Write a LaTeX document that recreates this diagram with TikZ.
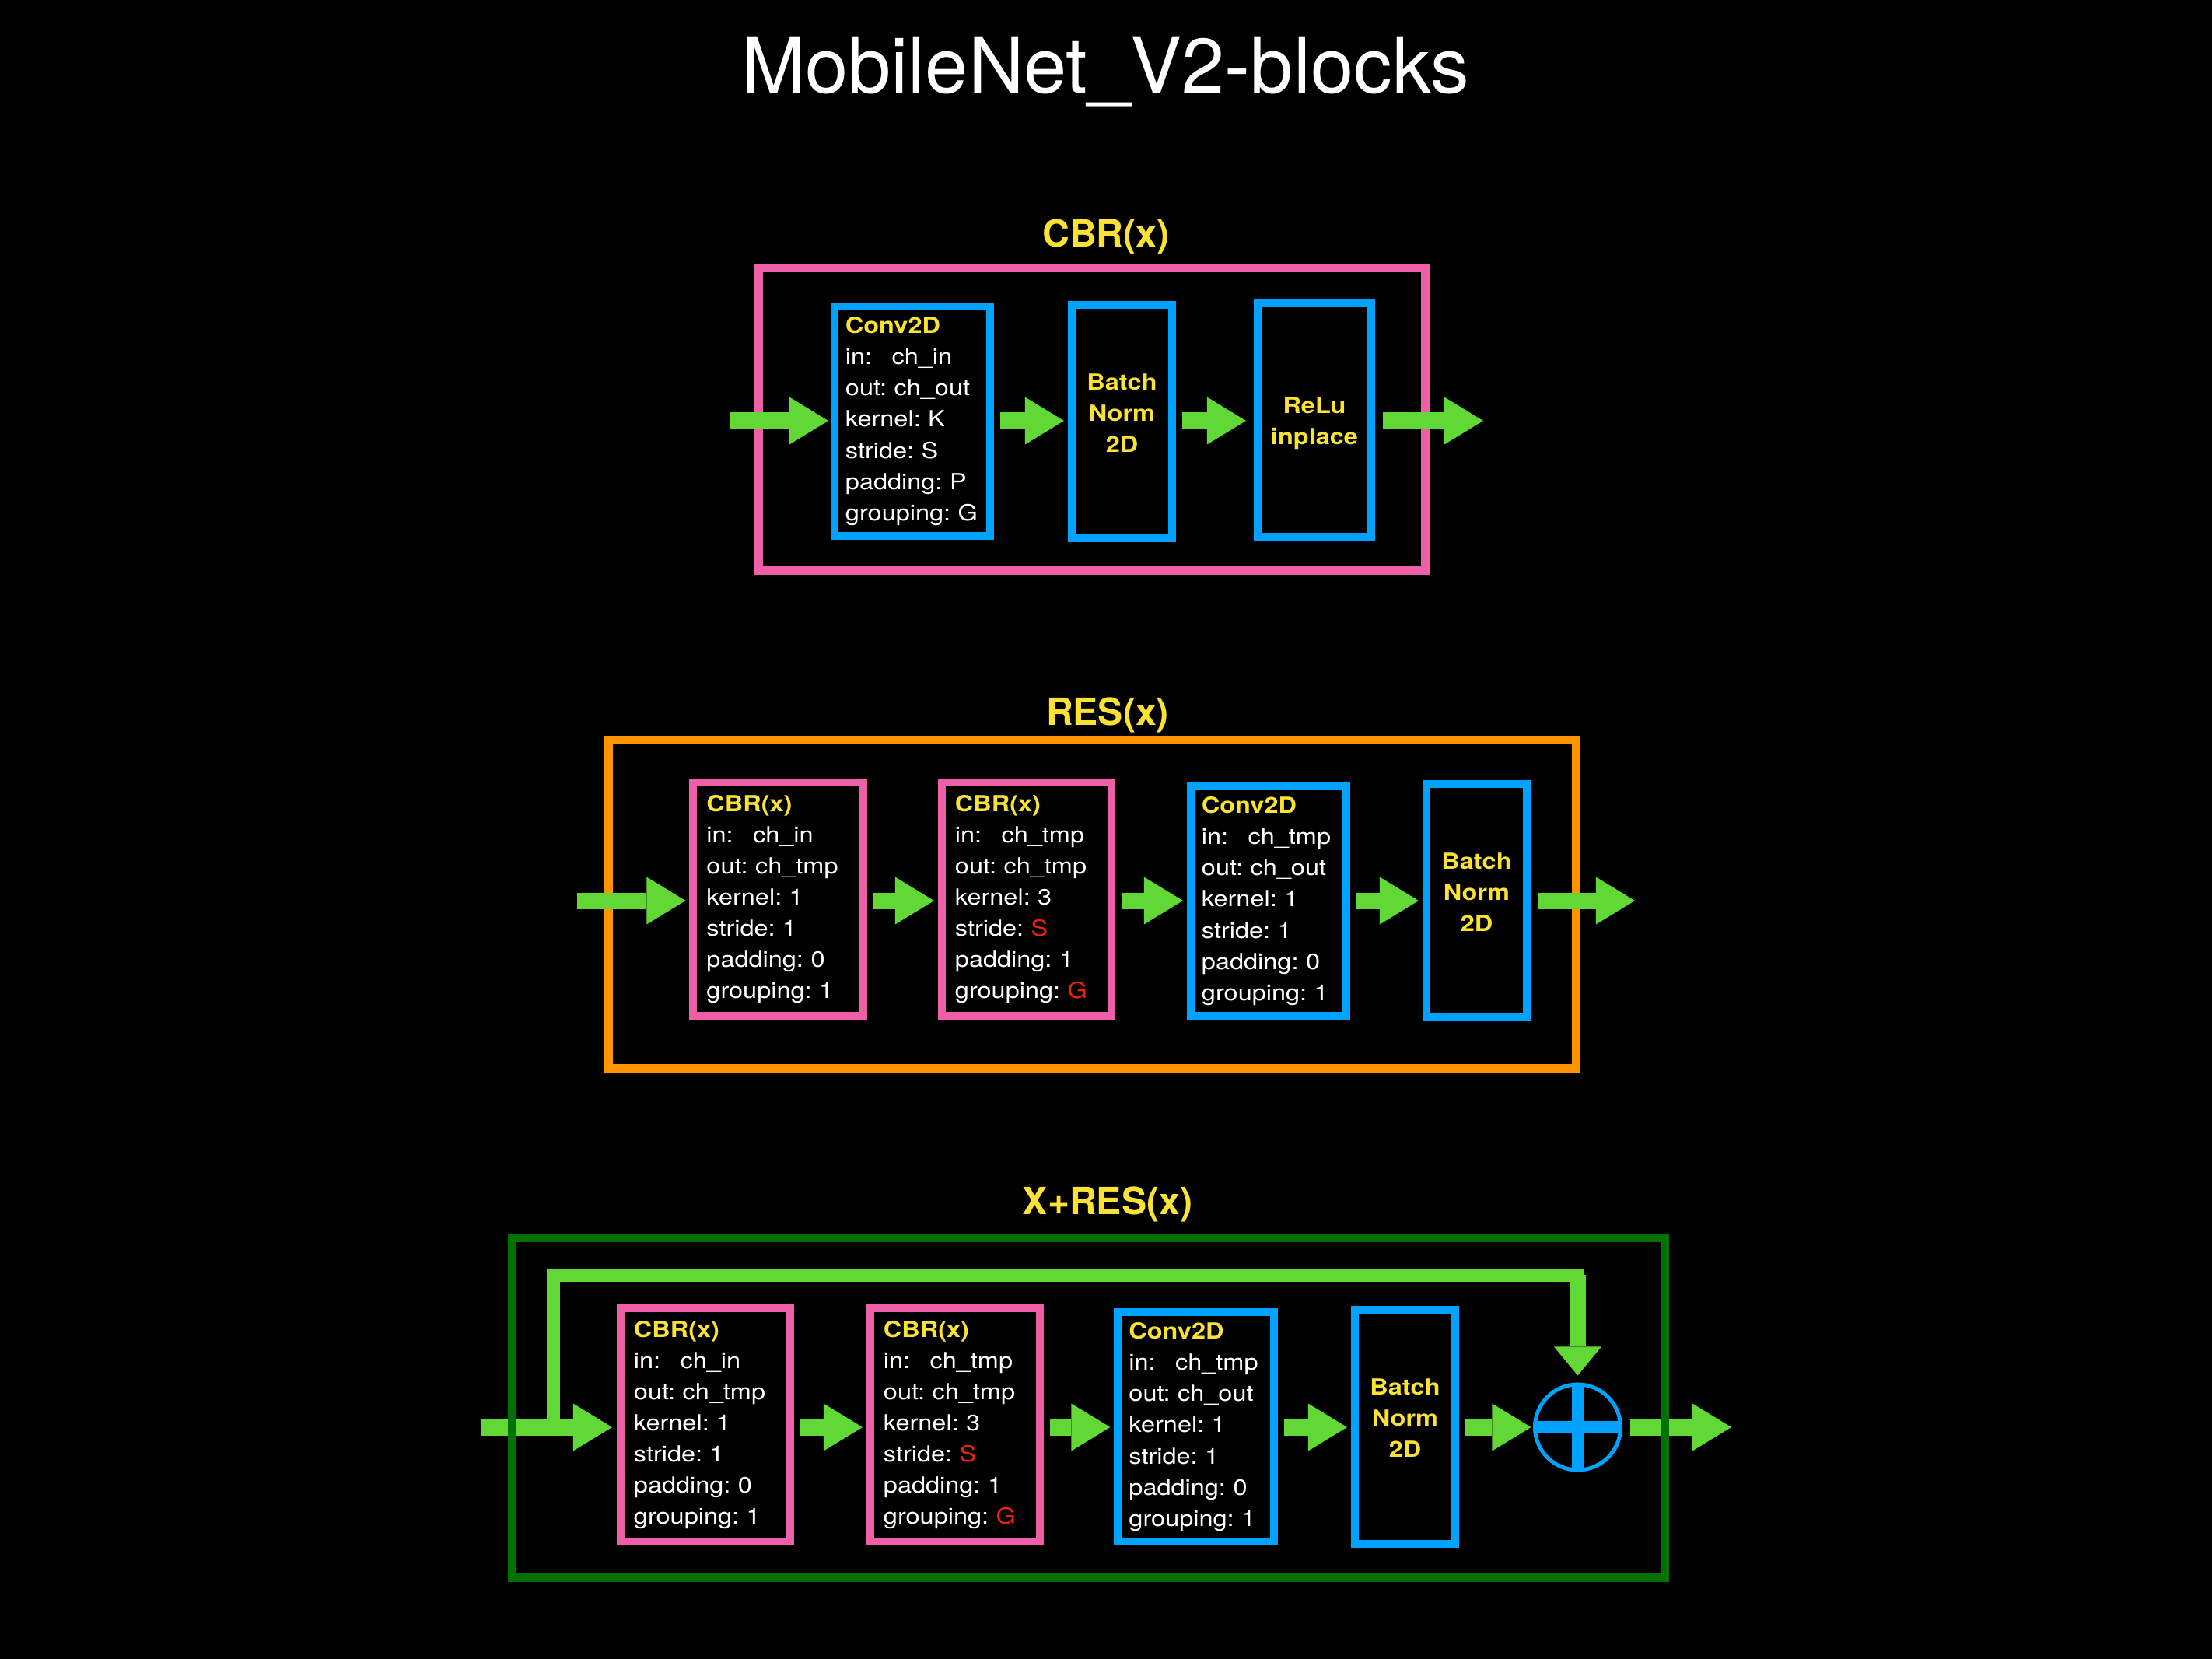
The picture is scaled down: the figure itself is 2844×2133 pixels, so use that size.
\documentclass[tikz,border=0pt]{standalone}
\usepackage{fontspec}
\setmainfont{TeX Gyre Heros}
\newfontfamily\boxfont[FakeStretch=1.14]{TeX Gyre Heros}
\usepackage{xcolor}
\usepackage{tikz}
\usetikzlibrary{arrows.meta,positioning}
\definecolor{kblue}{RGB}{0,162,255}
\definecolor{kpink}{RGB}{239,95,167}
\definecolor{kyellow}{RGB}{250,226,52}
\definecolor{kgreen}{RGB}{97,216,54}
\definecolor{korange}{RGB}{255,147,0}
\definecolor{kdkgreen}{RGB}{1,113,0}
\definecolor{kred}{RGB}{238,34,12}
\newcommand{\lname}[1]{\textbf{\textcolor{kyellow}{#1}}}
\newcommand{\lvar}[1]{\textcolor{kred}{#1}}
\newcommand{\inlbl}{in:\hspace{0.89em}}
\tikzset{
frame/.style={rectangle,draw=#1,line width=0.11cm,inner sep=0pt},
layer/.style={rectangle,draw=#1,line width=0.1cm,
align=left,text=white,
font=\boxfont\frenchspacing\fontsize{8.1}{11.4}\selectfont},
cbr/.style={layer=kpink,inner xsep=0.17cm,text width=1.84cm,minimum height=3cm},
conv/.style={layer=kblue,inner xsep=0.14cm,text width=1.72cm,minimum height=2.95cm},
norm/.style={rectangle,draw=kblue,line width=0.1cm,
minimum width=1.29cm,minimum height=3cm},
normtxt/.style={align=center,text=kyellow,
font=\boxfont\bfseries\fontsize{8.1}{11.4}\selectfont},
heading/.style={anchor=base,text=kyellow,
font=\bfseries\fontsize{13.7}{16}\selectfont},
flow/.style={draw=kgreen,line width=0.21cm,
-{Triangle[length=0.5cm,width=0.61cm,line width=0pt]}},
gap/.style={shorten <=0.08cm,shorten >=0.05cm},
bypass/.style={draw=kgreen,line width=0.17cm,line cap=rect}
}
\begin{document}
\begin{tikzpicture}[x=0.01cm,y=-0.01cm]
\path[use as bounding box,fill=black] (0,0) rectangle (2844,2133);

\node[anchor=base,text=white,font=\fontsize{28.2}{34}\selectfont] (maintitle)
at (1421,120) {MobileNet\_V2-blocks};

% CBR(x)
\node[heading] (cbrhead) at (1422,317) {CBR(x)};
\node[frame=kpink,minimum width=8.565cm,minimum height=3.895cm] (cbrframe) at (1404,539) {};
\node[conv] (cbrconv) at (1173,541.5) {\lname{Conv2D}\\ \inlbl ch\_in\\ out: ch\_out\\
kernel: K\\ stride: S\\ padding: P\\ grouping: G};
\node[norm] (cbrbn) at (1442.5,542) {};
\node[normtxt] (cbrbntxt) at ([yshift=0.105cm]cbrbn.center) {Batch\\Norm\\2D};
\node[norm,minimum width=1.46cm] (cbrrelu) at (1690,540) {};
\node[normtxt] (cbrrelutxt) at ([yshift=-0.04cm]cbrrelu.center) {ReLu\\inplace};
\coordinate (cbrin) at (938,541);
\coordinate (cbrout) at (1907,541);
\draw[flow,shorten >=0.03cm] (cbrin) -- (cbrin -| cbrconv.west);
\draw[flow,gap] (cbrconv.east |- cbrin) -- (cbrbn.west |- cbrin);
\draw[flow,gap,shorten >=0.1cm] (cbrbn.east |- cbrin) -- (cbrrelu.west |- cbrin);
\draw[flow,shorten <=0.1cm] (cbrrelu.east |- cbrin) -- (cbrout);

% RES(x)
\node[heading] (reshead) at (1424,932) {RES(x)};
\node[frame=korange,minimum width=12.43cm,minimum height=4.21cm] (resframe) at (1404.5,1162.5) {};
\node[cbr] (rescbra) at (1000.5,1156) {\lname{CBR(x)}\\ \inlbl ch\_in\\ out: ch\_tmp\\
kernel: 1\\ stride: 1\\ padding: 0\\ grouping: 1};
\node[cbr] (rescbrb) at (1320,1156) {\lname{CBR(x)}\\ \inlbl ch\_tmp\\ out: ch\_tmp\\
kernel: 3\\ stride: \lvar{S}\\ padding: 1\\ grouping: \lvar{G}};
\node[conv] (resconv) at (1631,1158.5) {\lname{Conv2D}\\ \inlbl ch\_tmp\\ out: ch\_out\\
kernel: 1\\ stride: 1\\ padding: 0\\ grouping: 1};
\node[norm] (resbn) at (1898.5,1158) {};
\node[normtxt] (resbntxt) at ([yshift=0.11cm]resbn.center) {Batch\\Norm\\2D};
\coordinate (resin) at (742,1158);
\coordinate (resout) at (2102,1158);
\draw[flow,shorten >=0.05cm] (resin) -- (resin -| rescbra.west);
\draw[flow,gap] (rescbra.east |- resin) -- (rescbrb.west |- resin);
\draw[flow,gap] (rescbrb.east |- resin) -- (resconv.west |- resin);
\draw[flow,gap] (resconv.east |- resin) -- (resbn.west |- resin);
\draw[flow,shorten <=0.09cm] (resbn.east |- resin) -- (resout);

% X+RES(x)
\node[heading] (xreshead) at (1424,1561) {X+RES(x)};
\node[cbr] (xrescbra) at (907,1832) {\lname{CBR(x)}\\ \inlbl ch\_in\\ out: ch\_tmp\\
kernel: 1\\ stride: 1\\ padding: 0\\ grouping: 1};
\node[cbr] (xrescbrb) at (1228,1832) {\lname{CBR(x)}\\ \inlbl ch\_tmp\\ out: ch\_tmp\\
kernel: 3\\ stride: \lvar{S}\\ padding: 1\\ grouping: \lvar{G}};
\node[conv] (xresconv) at (1537.5,1834.5) {\lname{Conv2D}\\ \inlbl ch\_tmp\\ out: ch\_out\\
kernel: 1\\ stride: 1\\ padding: 0\\ grouping: 1};
\node[norm] (xresbn) at (1806.5,1834.5) {};
\node[normtxt] (xresbntxt) at ([yshift=0.11cm]xresbn.center) {Batch\\Norm\\2D};
\node[circle,draw=kblue,line width=0.05cm,minimum size=1.1cm,inner sep=0pt,outer sep=0pt]
(xresadd) at (2028.5,1835) {};
\draw[kblue,line width=0.16cm] (xresadd.north) -- (xresadd.south)
(xresadd.west) -- (xresadd.east);
\coordinate (xresin) at (618,1835);
\coordinate (xresout) at (2226,1835);
\coordinate (split) at (711,1835);
\coordinate (bycorner) at (2028.5,1639);
\draw[bypass] (split) |- (bycorner);
\draw[flow,line width=0.2cm,-{Triangle[length=0.37cm,width=0.61cm,line width=0pt]},
shorten >=0.115cm] (bycorner) -- (xresadd.north);
\draw[flow,shorten >=0.06cm] (xresin) -- (xresin -| xrescbra.west);
\draw[flow,gap] (xrescbra.east |- xresin) -- (xrescbrb.west |- xresin);
\draw[flow,gap] (xrescbrb.east |- xresin) -- (xresconv.west |- xresin);
\draw[flow,gap] (xresconv.east |- xresin) -- (xresbn.west |- xresin);
\draw[flow,gap] (xresbn.east |- xresin) -- (xresadd.west);
\draw[flow,shorten <=0.12cm] (xresadd.east) -- (xresout);
\node[frame=kdkgreen,minimum width=14.81cm,minimum height=4.36cm] (xresframe) at (1399.5,1810) {};

\end{tikzpicture}
\end{document}
